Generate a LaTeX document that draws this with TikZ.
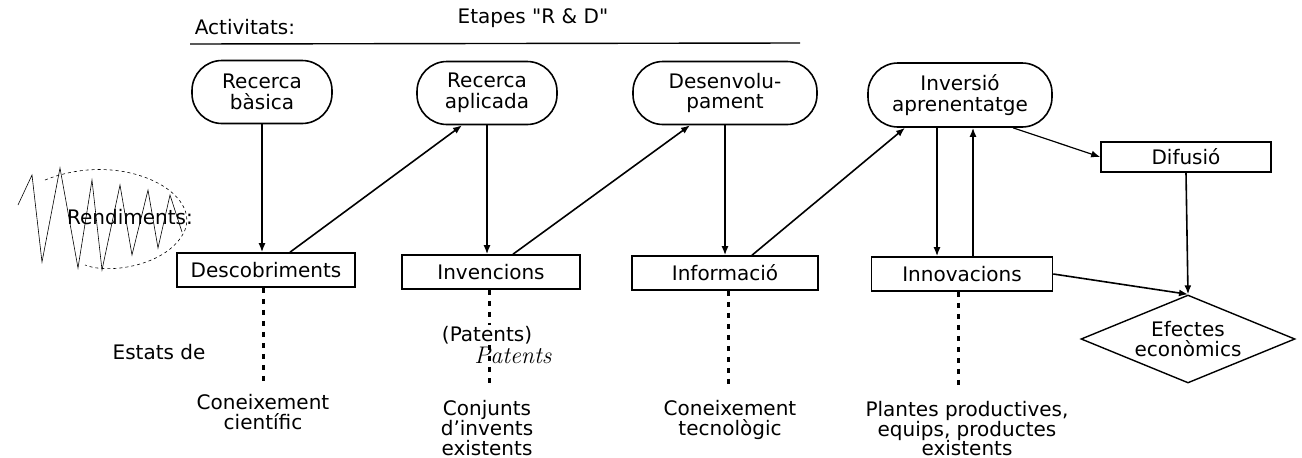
\documentclass[tikz,border=0pt]{standalone}
\usepackage{fontspec}
\setmainfont{DejaVu Sans}
\newfontfamily\plainfont{DejaVu Sans}
\usetikzlibrary{shapes.geometric,arrows.meta}
\begin{document}
\begin{tikzpicture}[x=1pt,y=-1pt,
  every node/.style={font=\fontsize{20}{20.5}\selectfont, align=center},
  stad/.style={draw, line width=1.6pt, rounded corners=30pt, minimum width=140pt, minimum height=63pt, inner sep=2pt},
  box/.style={draw, line width=1.6pt, minimum height=34pt, inner sep=2pt},
  arr/.style={line width=1.6pt, -{Latex[length=9pt,width=7pt]}},
  dots/.style={line width=3pt, dash pattern=on 5pt off 6pt},
  lbl/.style={inner sep=0pt},
  scrib/.style={line width=0.6pt}]
\useasboundingbox (0,0) rectangle (1302,458);

% header
\node[lbl] (act) at (245,27) {Activitats:};
\node[lbl] (etp) at (533,18) {Etapes {\plainfont "R \& D"}};
\coordinate (hl1) at (190,44);
\coordinate (hl2) at (800,43);
\draw[line width=1.4pt] (hl1) -- (hl2);

% scribble and Rendiments
\draw[scrib] (18,205) -- (32,175) -- (42,262) -- (60,168) -- (78,268) -- (92,180) -- (102,270) -- (120,185) -- (132,255) -- (148,190) -- (158,248) -- (170,195) -- (182,232);
\draw[scrib, dashed] (45,180) .. controls (120,150) and (200,190) .. (185,230) .. controls (170,265) and (110,275) .. (85,265);
\node[lbl] (rend) at (130,217) {Rendiments:};

% stage nodes
\node[stad] (rb) at (262,92) {Recerca\\bàsica};
\node[stad] (ra) at (487,93) {Recerca\\aplicada};
\node[stad, minimum width=184pt] (de) at (725,93) {Desenvolu-\\pament};
\node[stad, minimum width=184pt, minimum height=64pt] (ia) at (960,95) {Inversió\\aprenentatge};

% output boxes
\node[box, minimum width=178pt] (dc) at (266,270) {Descobriments};
\node[box, minimum width=178pt] (iv) at (491,272) {Invencions};
\node[box, minimum width=186pt] (im) at (725,273) {Informació};
\node[box, minimum width=181pt] (in) at (962,274) {Innovacions};
\node[box, minimum width=170pt, minimum height=30pt] (df) at (1186,157) {Difusió};
\node[draw, diamond, aspect=2.4, line width=1.4pt, minimum width=214pt, minimum height=88pt, inner sep=0pt] (ef) at (1188,339) {Efectes\\econòmics};

% connectors
\draw[arr] (rb.south) -- (rb.south |- dc.north);
\draw[arr] ([xshift=24pt]dc.north) -- ([xshift=-25pt]ra.south);
\draw[arr] (ra.south) -- (ra.south |- iv.north);
\draw[arr] ([xshift=22pt]iv.north) -- ([xshift=-35pt]de.south);
\draw[arr] (de.south) -- (de.south |- im.north);
\draw[arr] ([xshift=27pt]im.north) -- ([xshift=-55pt]ia.south);
\draw[arr] ([xshift=-23pt]ia.south) -- ([xshift=-23pt]ia.south |- in.north);
\draw[arr] ([xshift=11pt]in.north) -- ([xshift=11pt]in.north |- ia.south);
\draw[arr, line width=1.2pt] ([xshift=53pt]ia.south) -- (df.west);
\draw[arr] (df.south) -- (ef.north);
\draw[arr] (in.east) -- (ef.north);

% dotted state lines
\coordinate (s1) at (263,383);
\coordinate (s2) at (489,385);
\coordinate (s3) at (728,385);
\coordinate (s4) at (958,385);
\draw[dots] (dc.south -| s1) -- (s1);
\draw[dots] (iv.south -| s2) -- (s2);
\draw[dots] (im.south -| s3) -- (s3);
\draw[dots] (in.south -| s4) -- (s4);

% state labels
\node[lbl] (est) at (159,352) {Estats de};
\node[lbl] (t1) at (263,412) {Coneixement\\científic};
\node[lbl, fill=white, inner sep=1pt] (pat) at (487,335) {(Patents)};
\node[lbl, font=\fontsize{24}{24}\itshape\fontspec{Latin Modern Roman}] (pat2) at (513,355) {Patents};
\node[lbl, anchor=south, font=\fontsize{20}{20}\selectfont] (t2) at (487,456) {Conjunts\\d'invents\\existents};
\node[lbl] (t3) at (730,420) {Coneixement\\tecnològic};
\node[lbl, anchor=south, font=\fontsize{20}{19.5}\selectfont] (t4) at (967,456) {Plantes productives,\\equips, productes\\existents};
\end{tikzpicture}
\end{document}
